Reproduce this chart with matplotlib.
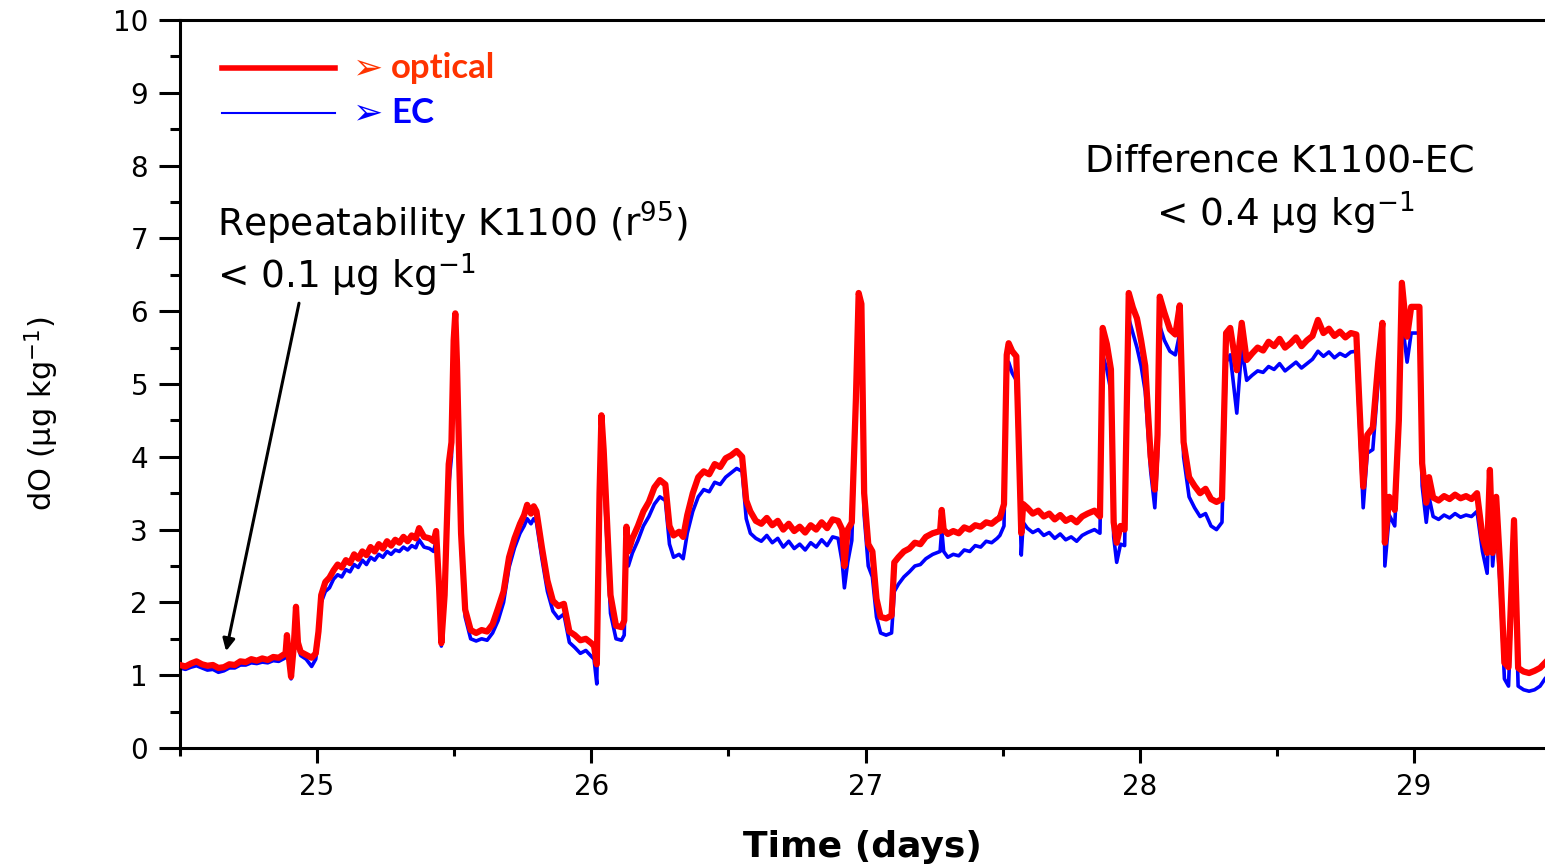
import matplotlib
matplotlib.use("Agg")
import matplotlib.pyplot as plt
from matplotlib.ticker import MultipleLocator

# ---------------- data ----------------
time_days = [
    24.50, 24.52, 24.54, 24.56, 24.58, 24.60, 24.62, 24.64, 24.66, 24.68, 24.70, 24.72, 24.74, 24.76, 24.78, 24.80, 24.82, 24.84, 24.86,
    24.885, 24.89, 24.897, 24.905, 24.915, 24.923, 24.93, 24.94, 24.96, 24.98, 24.995,
    25.005, 25.015, 25.03, 25.045, 25.06, 25.075, 25.09, 25.105, 25.12, 25.135, 25.15, 25.165, 25.18, 25.195, 25.21, 25.225, 25.24, 25.255, 25.27, 25.285, 25.30, 25.315, 25.33, 25.345, 25.36,
    25.372, 25.39, 25.41, 25.425, 25.434, 25.445, 25.453, 25.465, 25.48, 25.49, 25.498, 25.504, 25.51, 25.518, 25.525, 25.54, 25.56,
    25.58, 25.60, 25.62, 25.64, 25.66, 25.68, 25.70, 25.72, 25.74, 25.755, 25.766, 25.78, 25.79, 25.80, 25.82, 25.84, 25.86, 25.88, 25.90, 25.92, 25.94, 25.96, 25.98, 26.00, 26.01,
    26.02, 26.03, 26.037, 26.045, 26.055, 26.07, 26.09, 26.11, 26.12, 26.128, 26.135,
    26.15, 26.17, 26.19, 26.21, 26.23, 26.25, 26.27, 26.285, 26.30, 26.32, 26.335, 26.35, 26.37, 26.39, 26.41, 26.43, 26.45, 26.47, 26.49, 26.51, 26.53, 26.55,
    26.565, 26.58, 26.60, 26.62, 26.64, 26.66, 26.68, 26.70, 26.72, 26.74, 26.76, 26.78, 26.80, 26.82, 26.84, 26.86, 26.88, 26.90, 26.915, 26.923, 26.935, 26.95,
    26.965, 26.975, 26.985, 26.995, 27.01, 27.025, 27.04, 27.055, 27.075, 27.095, 27.105,
    27.12, 27.14, 27.16, 27.18, 27.20, 27.22, 27.245, 27.272, 27.278, 27.285, 27.30, 27.32, 27.34, 27.36, 27.38, 27.40, 27.42, 27.44, 27.46, 27.48, 27.49,
    27.505, 27.515, 27.522, 27.535, 27.55, 27.56, 27.568, 27.575,
    27.59, 27.61, 27.63, 27.65, 27.67, 27.69, 27.71, 27.73, 27.75, 27.77, 27.79, 27.81, 27.835, 27.855,
    27.865, 27.88, 27.895, 27.905, 27.916, 27.93, 27.945, 27.96, 27.975, 27.99, 28.005, 28.02, 28.04, 28.055, 28.065, 28.073, 28.09, 28.11, 28.13, 28.146,
    28.16, 28.18, 28.20, 28.22, 28.24, 28.26, 28.28, 28.30,
    28.315, 28.33, 28.354, 28.372, 28.39, 28.41, 28.43, 28.45, 28.47, 28.49, 28.51, 28.53, 28.55, 28.57, 28.59, 28.61, 28.63, 28.65, 28.67, 28.69, 28.71, 28.73, 28.75, 28.77, 28.79,
    28.80, 28.815, 28.83, 28.85, 28.87, 28.885, 28.894, 28.91, 28.93, 28.945, 28.956, 28.975, 28.99, 29.02, 29.03, 29.045, 29.055,
    29.07, 29.09, 29.11, 29.13, 29.15, 29.17, 29.19, 29.21, 29.23,
    29.25, 29.267, 29.277, 29.287, 29.30, 29.315, 29.33, 29.345, 29.365, 29.38, 29.40, 29.42, 29.44, 29.46, 29.478,
]

optical = [
    1.14, 1.12, 1.16, 1.19, 1.15, 1.13, 1.14, 1.10, 1.11, 1.15, 1.14, 1.19, 1.18, 1.22, 1.20, 1.23, 1.21, 1.25, 1.24,
    1.30, 1.55, 1.25, 0.98, 1.40, 1.94, 1.45, 1.32, 1.28, 1.24, 1.30,
    1.60, 2.10, 2.28, 2.34, 2.44, 2.52, 2.48, 2.58, 2.54, 2.66, 2.60, 2.70, 2.65, 2.76, 2.70, 2.80, 2.74, 2.84, 2.78, 2.86, 2.82, 2.90, 2.84, 2.92, 2.88,
    3.02, 2.90, 2.88, 2.84, 2.98, 2.20, 1.44, 2.10, 3.90, 4.20, 5.60, 5.97, 5.30, 4.00, 2.95, 1.90, 1.62,
    1.58, 1.62, 1.60, 1.70, 1.92, 2.15, 2.62, 2.88, 3.08, 3.20, 3.34, 3.22, 3.32, 3.25, 2.75, 2.30, 2.02, 1.95, 1.98, 1.60, 1.55, 1.48, 1.50, 1.44, 1.40,
    1.15, 3.50, 4.57, 4.10, 3.30, 2.10, 1.68, 1.66, 1.75, 3.04, 2.70,
    2.88, 3.05, 3.25, 3.38, 3.58, 3.68, 3.62, 3.05, 2.92, 2.97, 2.90, 3.20, 3.50, 3.72, 3.80, 3.76, 3.90, 3.86, 3.98, 4.02, 4.08, 4.00,
    3.40, 3.25, 3.12, 3.08, 3.16, 3.06, 3.12, 3.00, 3.08, 2.98, 3.04, 2.96, 3.06, 3.00, 3.10, 3.02, 3.14, 3.12, 3.00, 2.50, 3.00, 3.10,
    4.80, 6.25, 6.10, 3.50, 2.80, 2.70, 2.05, 1.80, 1.78, 1.82, 2.55,
    2.62, 2.70, 2.74, 2.82, 2.80, 2.90, 2.95, 2.98, 3.27, 3.00, 2.94, 2.98, 2.95, 3.03, 3.00, 3.06, 3.04, 3.10, 3.08, 3.14, 3.16,
    3.35, 5.40, 5.56, 5.45, 5.38, 4.00, 2.95, 3.35,
    3.30, 3.22, 3.26, 3.18, 3.22, 3.14, 3.20, 3.12, 3.16, 3.10, 3.18, 3.22, 3.26, 3.18,
    5.77, 5.55, 5.20, 3.10, 2.82, 3.05, 3.00, 6.25, 6.05, 5.90, 5.60, 5.25, 4.00, 3.55, 4.30, 6.20, 5.98, 5.75, 5.68, 6.08,
    4.20, 3.72, 3.60, 3.50, 3.56, 3.42, 3.38, 3.42,
    5.70, 5.77, 5.19, 5.84, 5.33, 5.42, 5.50, 5.46, 5.58, 5.52, 5.62, 5.50, 5.56, 5.64, 5.52, 5.60, 5.66, 5.88, 5.70, 5.76, 5.66, 5.72, 5.64, 5.70, 5.68,
    4.82, 3.59, 4.30, 4.40, 5.30, 5.84, 2.82, 3.45, 3.27, 4.50, 6.39, 5.65, 6.06, 6.06, 3.91, 3.37, 3.72,
    3.44, 3.40, 3.46, 3.42, 3.48, 3.43, 3.46, 3.42, 3.50,
    2.90, 2.68, 3.82, 2.68, 3.45, 2.45, 1.17, 1.11, 3.13, 1.10, 1.05, 1.03, 1.06, 1.10, 1.17,
]

ec = [
    1.10, 1.08, 1.11, 1.13, 1.10, 1.07, 1.08, 1.04, 1.06, 1.10, 1.10, 1.14, 1.14, 1.17, 1.16, 1.18, 1.17, 1.20, 1.19,
    1.24, 1.45, 1.20, 0.95, 1.35, 1.85, 1.40, 1.27, 1.22, 1.12, 1.22,
    1.52, 2.00, 2.15, 2.20, 2.32, 2.38, 2.35, 2.45, 2.42, 2.52, 2.48, 2.58, 2.52, 2.62, 2.58, 2.66, 2.62, 2.70, 2.66, 2.72, 2.70, 2.76, 2.72, 2.78, 2.75,
    2.86, 2.76, 2.74, 2.70, 2.85, 2.10, 1.40, 2.00, 3.60, 4.00, 5.30, 5.60, 4.90, 3.60, 2.80, 1.80, 1.50,
    1.47, 1.50, 1.48, 1.58, 1.75, 2.00, 2.48, 2.75, 2.95, 3.05, 3.15, 3.08, 3.15, 3.10, 2.60, 2.15, 1.88, 1.78, 1.84, 1.45, 1.38, 1.30, 1.34, 1.26, 1.22,
    0.88, 3.30, 4.30, 3.80, 3.00, 1.85, 1.50, 1.48, 1.55, 2.75, 2.50,
    2.68, 2.85, 3.05, 3.18, 3.35, 3.45, 3.40, 2.80, 2.62, 2.66, 2.60, 2.95, 3.25, 3.45, 3.55, 3.52, 3.65, 3.62, 3.72, 3.78, 3.84, 3.80,
    3.15, 2.95, 2.88, 2.84, 2.92, 2.82, 2.88, 2.76, 2.84, 2.74, 2.80, 2.72, 2.82, 2.76, 2.86, 2.78, 2.90, 2.88, 2.55, 2.20, 2.55, 2.85,
    4.60, 6.00, 5.85, 3.20, 2.50, 2.35, 1.80, 1.58, 1.55, 1.58, 2.15,
    2.25, 2.35, 2.42, 2.50, 2.52, 2.60, 2.66, 2.70, 3.00, 2.70, 2.62, 2.66, 2.64, 2.72, 2.70, 2.78, 2.76, 2.84, 2.82, 2.88, 2.92,
    3.05, 5.10, 5.30, 5.15, 5.05, 3.80, 2.65, 3.10,
    3.02, 2.96, 3.00, 2.92, 2.96, 2.88, 2.94, 2.86, 2.90, 2.84, 2.92, 2.96, 3.00, 2.95,
    5.40, 5.20, 4.90, 2.90, 2.55, 2.80, 2.78, 5.90, 5.70, 5.50, 5.25, 4.90, 3.80, 3.30, 4.00, 5.80, 5.60, 5.45, 5.40, 5.70,
    4.00, 3.45, 3.30, 3.18, 3.22, 3.05, 3.00, 3.10,
    5.30, 5.40, 4.60, 5.50, 5.05, 5.12, 5.18, 5.16, 5.24, 5.20, 5.28, 5.18, 5.24, 5.30, 5.22, 5.28, 5.34, 5.45, 5.38, 5.44, 5.36, 5.42, 5.38, 5.44, 5.45,
    4.60, 3.30, 4.05, 4.10, 5.05, 5.50, 2.50, 3.20, 3.05, 4.30, 5.90, 5.30, 5.70, 5.70, 3.60, 3.10, 3.45,
    3.18, 3.14, 3.20, 3.16, 3.22, 3.17, 3.20, 3.18, 3.25,
    2.70, 2.40, 3.50, 2.50, 3.10, 2.20, 0.95, 0.85, 2.90, 0.85, 0.80, 0.78, 0.80, 0.85, 0.95,
]

x_ticks = [25, 26, 27, 28, 29]
y_ticks = [0, 1, 2, 3, 4, 5, 6, 7, 8, 9, 10]
legend_labels = ["optical", "EC"]

# ---------------- figure ----------------
W, H, DPI = 1545, 864, 100
fig = plt.figure(figsize=(W / DPI, H / DPI), dpi=DPI)
left = 180 / W
bottom = (H - 748) / H
top = (H - 20) / H
ax = fig.add_axes([left, bottom, 1.0 - left, top - bottom])

ax.plot(time_days, ec, color="#0000FF", lw=2.6, solid_joinstyle="round", zorder=2)
ax.plot(time_days, optical, color="#FF0000", lw=4.5, solid_joinstyle="round", zorder=3)

ax.set_xlim(24.5, 29.478)
ax.set_ylim(0, 10)
ax.set_xticks(x_ticks)
ax.set_yticks(y_ticks)
ax.xaxis.set_minor_locator(MultipleLocator(0.5))
ax.yaxis.set_minor_locator(MultipleLocator(0.5))

font_main = "DejaVu Sans"
for s in ["left", "bottom", "top"]:
    ax.spines[s].set_linewidth(2.2)
ax.spines["right"].set_visible(False)
ax.tick_params(axis="y", which="major", direction="out", length=15, width=2.2,
               labelsize=20, pad=8)
ax.tick_params(axis="y", which="minor", direction="out", length=7, width=2.2)
ax.tick_params(axis="x", which="major", direction="out", length=11, width=2.2,
               labelsize=20, pad=7)
ax.tick_params(axis="x", which="minor", direction="out", length=6, width=2.2)
ax.tick_params(right=False, top=False)
for lab in ax.get_xticklabels() + ax.get_yticklabels():
    lab.set_fontfamily(font_main)

ax.set_xlabel("Time (days)", fontsize=26, fontweight="bold", family=font_main)
ax.xaxis.set_label_coords(0.5, -0.112)
ax.set_ylabel("dO (μg kg$^{-1}$)", fontsize=22, family=font_main)
ax.yaxis.set_label_coords(-0.0875, 0.459)

# ---------------- legend (custom, as in the reference) ----------------
ax.plot([24.652, 25.067], [9.34, 9.34], color="#FF0000", lw=4.0, zorder=4)
ax.plot([24.652, 25.067], [8.72, 8.72], color="#0000FF", lw=1.5, zorder=4)
ax.text(25.13, 9.34, "➢", color="#FF3300", fontsize=26, family="DejaVu Sans",
        va="center", ha="left")
ax.text(25.27, 9.34, legend_labels[0], color="#FF3300", fontsize=25,
        fontweight="bold", family=["Lato", "DejaVu Sans"], va="center", ha="left")
ax.text(25.13, 8.72, "➢", color="#0000FF", fontsize=26, family="DejaVu Sans",
        va="center", ha="left")
ax.text(25.27, 8.72, legend_labels[1], color="#0000FF", fontsize=25,
        fontweight="bold", family=["Lato", "DejaVu Sans"], va="center", ha="left")

# ---------------- annotations ----------------
ax.text(24.635, 7.2, "Repeatability K1100 (r$^{95}$)", fontsize=27,
        family=font_main, va="center", ha="left")
ax.text(24.635, 6.5, "< 0.1 μg kg$^{-1}$", fontsize=27,
        family=font_main, va="center", ha="left")
ax.text(28.51, 8.05, "Difference K1100-EC", fontsize=27,
        family=font_main, va="center", ha="center")
ax.text(28.53, 7.35, "< 0.4 μg kg$^{-1}$", fontsize=27,
        family=font_main, va="center", ha="center")

ax.annotate("", xy=(24.668, 1.33), xytext=(24.934, 6.11),
            arrowprops=dict(arrowstyle="-|>", color="black", lw=2.2,
                            mutation_scale=18, shrinkA=0, shrinkB=0))

fig.savefig("out.png", dpi=DPI)
